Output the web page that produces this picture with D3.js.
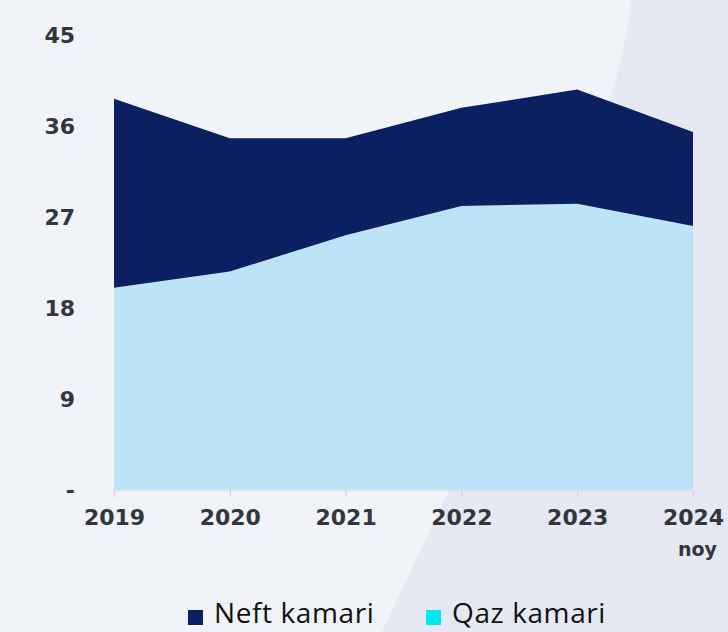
<!DOCTYPE html>
<html>
<head>
<meta charset="utf-8">
<script src="https://cdn.jsdelivr.net/npm/d3@7"></script>
<style>
  html, body { margin: 0; padding: 0; }
  body { width: 728px; height: 632px; overflow: hidden; background: #f0f3f8; }
  text { font-family: "Open Sans", Lato, sans-serif; }
  .axis-label { font-family: "DejaVu Sans", "Open Sans", sans-serif; }
</style>
</head>
<body>
<div id="chart"></div>
<script>
// data
let years = ["2019", "2020", "2021", "2022", "2023", "2024"];
let qaz = [20.0, 21.6, 25.2, 28.1, 28.3, 26.1];   // Qaz kamari (bottom)
let neft = [18.7, 13.2, 9.6, 9.7, 11.3, 9.3];     // Neft kamari (top)
let yTicks = [0, 9, 18, 27, 36, 45];
let seriesNames = ["Neft kamari", "Qaz kamari"];

let svgWidth = 728, svgHeight = 632;
let margin = { top: 35, right: 35, bottom: 142, left: 114 };
let chartWidth = svgWidth - margin.left - margin.right;
let chartHeight = svgHeight - margin.top - margin.bottom;

let svg = d3.select("#chart").append("svg")
    .attr("width", svgWidth)
    .attr("height", svgHeight);

// background with the darker curved panel on the right
svg.append("rect").attr("width", svgWidth).attr("height", svgHeight).attr("fill", "#f0f3f8");
svg.append("path")
    .attr("d", "M632,0 C605,190 480,420 382,632 L728,632 L728,0 Z")
    .attr("fill", "#e6e9f4");

let chartGroup = svg.append("g")
    .attr("transform", `translate(${margin.left},${margin.top})`);

let data = years.map((y, i) => ({ year: y, qaz: qaz[i], neft: neft[i] }));

let xScale = d3.scalePoint().domain(years).range([0, chartWidth]);
let yScale = d3.scaleLinear().domain([0, 45]).range([chartHeight, 0]);

let stack = d3.stack().keys(["qaz", "neft"]);
let layers = stack(data);
let colors = { qaz: "#bde4f6", neft: "#0b2060" };

let area = d3.area()
    .x(d => xScale(d.data.year))
    .y0(d => yScale(d[0]))
    .y1(d => yScale(d[1]));

chartGroup.selectAll(".layer")
    .data(layers)
    .enter()
    .append("path")
    .attr("class", "layer")
    .attr("d", area)
    .attr("fill", d => colors[d.key]);

// x axis
let xAxis = d3.axisBottom(xScale).tickSize(7).tickPadding(12);
let xg = chartGroup.append("g")
    .attr("transform", `translate(0, ${chartHeight})`)
    .call(xAxis);
xg.select(".domain").attr("stroke", "#e9dfe9").attr("stroke-width", 1.5);
xg.selectAll(".tick line").attr("stroke", "#cfcfd8");
xg.selectAll(".tick text")
    .attr("class", "axis-label")
    .attr("fill", "#33363d")
    .style("font-size", "22px")
    .style("font-weight", 700);
xg.selectAll(".tick")
    .filter(d => d === "2024")
    .append("text")
    .attr("class", "axis-label")
    .attr("y", 66)
    .attr("x", 4)
    .attr("text-anchor", "middle")
    .attr("fill", "#33363d")
    .style("font-size", "19px")
    .style("font-weight", 700)
    .text("noy");

// y axis labels
let yAxis = d3.axisLeft(yScale)
    .tickValues(yTicks)
    .tickSize(0)
    .tickPadding(39)
    .tickFormat(d => d === 0 ? "-" : d);
let yg = chartGroup.append("g").call(yAxis);
yg.select(".domain").remove();
yg.selectAll(".tick text")
    .attr("class", "axis-label")
    .attr("fill", "#33363d")
    .style("font-size", "22px")
    .style("font-weight", 700);

// legend at the very bottom
let legend = svg.append("g").attr("transform", "translate(188, 623)");
let legendColors = ["#0b2060", "#00e8f0"];
let legendX = [0, 238];
seriesNames.forEach((name, i) => {
    let g = legend.append("g").attr("transform", `translate(${legendX[i]},0)`);
    g.append("rect").attr("x", 0).attr("y", -13).attr("width", 15).attr("height", 15)
        .attr("fill", legendColors[i]);
    g.append("text").attr("x", 26).attr("y", 0)
        .attr("fill", "#111")
        .style("font-size", "28px")
        .style("letter-spacing", "0.6px")
        .text(name);
});
</script>
</body>
</html>
